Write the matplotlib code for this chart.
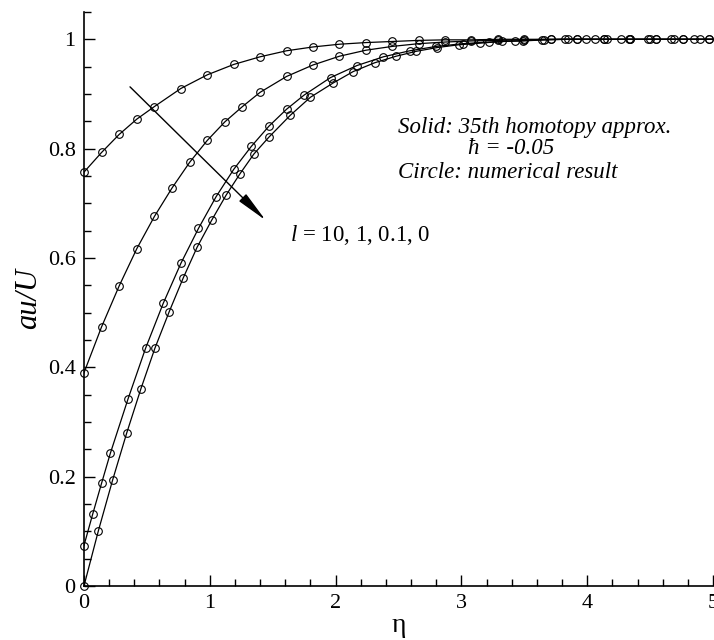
import numpy as np
import matplotlib
matplotlib.use("Agg")
import matplotlib.pyplot as plt
from matplotlib.ticker import MultipleLocator

plt.rcParams['font.family'] = ['Liberation Serif', 'DejaVu Serif']
plt.rcParams['mathtext.fontset'] = 'custom'
plt.rcParams['mathtext.rm'] = 'Liberation Serif'
plt.rcParams['mathtext.it'] = 'Liberation Serif:italic'

# l = 10
eta_10 = [0, 0.14, 0.28, 0.42, 0.56, 0.77, 0.98, 1.19, 1.40, 1.61, 1.82, 2.03,
          2.24, 2.45, 2.66, 2.87, 3.08, 3.29, 3.50, 3.71, 3.92, 4.13, 4.34,
          4.55, 4.76, 4.97]
u_10 = [0.757, 0.793, 0.826, 0.854, 0.877, 0.910, 0.935, 0.954, 0.968, 0.979,
        0.986, 0.991, 0.994, 0.996, 0.998, 0.999, 0.999, 1.0, 1.0, 1.0, 1.0,
        1.0, 1.0, 1.0, 1.0, 1.0]

# l = 1
eta_1 = [0, 0.14, 0.28, 0.42, 0.56, 0.70, 0.84, 0.98, 1.12, 1.26, 1.40, 1.61,
         1.82, 2.03, 2.24, 2.45, 2.66, 2.87, 3.08, 3.29, 3.50, 3.71, 3.92,
         4.13, 4.34, 4.55, 4.76, 4.97]
u_1 = [0.390, 0.474, 0.549, 0.617, 0.676, 0.728, 0.775, 0.815, 0.849, 0.877,
       0.903, 0.932, 0.953, 0.969, 0.980, 0.987, 0.992, 0.995, 0.997, 0.998,
       0.999, 1.0, 1.0, 1.0, 1.0, 1.0, 1.0, 1.0]

# l = 0.1
eta_01 = [0, 0.07, 0.14, 0.21, 0.35, 0.49, 0.63, 0.77, 0.91, 1.05, 1.19, 1.33,
          1.47, 1.61, 1.75, 1.96, 2.17, 2.38, 2.59, 2.80, 3.01, 3.22, 3.43,
          3.64, 3.85, 4.06, 4.27, 4.48, 4.69, 4.90]
u_01 = [0.074, 0.132, 0.188, 0.243, 0.342, 0.435, 0.517, 0.590, 0.654, 0.712,
        0.762, 0.804, 0.841, 0.872, 0.898, 0.930, 0.952, 0.968, 0.979, 0.987,
        0.992, 0.995, 0.997, 0.999, 1.0, 1.0, 1.0, 1.0, 1.0, 1.0]

# l = 0
eta_0 = [0, 0.114, 0.228, 0.34, 0.453, 0.564, 0.678, 0.79, 0.90, 1.015, 1.13,
         1.24, 1.35, 1.47, 1.64, 1.80, 1.98, 2.14, 2.31, 2.48, 2.64, 2.81,
         2.98, 3.15, 3.32, 3.49, 3.66, 3.82, 3.99, 4.16, 4.33, 4.50, 4.67,
         4.85]
u_0 = [0.0, 0.1005, 0.194, 0.280, 0.361, 0.435, 0.502, 0.564, 0.620, 0.669,
       0.715, 0.754, 0.790, 0.821, 0.861, 0.894, 0.920, 0.941, 0.957, 0.969,
       0.978, 0.985, 0.990, 0.993, 0.996, 0.997, 0.999, 1.0, 1.0, 1.0, 1.0,
       1.0, 1.0, 1.0]

curves = [(eta_10, u_10), (eta_1, u_1), (eta_01, u_01), (eta_0, u_0)]

fig = plt.figure(figsize=(7.14, 6.4), dpi=100)
ax = fig.add_axes([0.1176, 0.0844, 0.881, 0.8969])

for eta, u in curves:
    # solid line continues to the right edge at u = 1
    ax.plot(list(eta) + [5.0], list(u) + [1.0], color='k', lw=0.9)
    ax.plot(eta, u, ls='none', marker='o', ms=5.5, mfc='none', mec='k',
            mew=0.8, clip_on=False)

ax.set_xlim(0, 5)
ax.set_ylim(0, 1.05)
ax.xaxis.set_major_locator(MultipleLocator(1))
ax.xaxis.set_minor_locator(MultipleLocator(0.2))
ax.yaxis.set_major_locator(MultipleLocator(0.2))
ax.yaxis.set_minor_locator(MultipleLocator(0.05))
ax.xaxis.set_major_formatter(matplotlib.ticker.FuncFormatter(lambda v, p: f"{v:g}"))
ax.yaxis.set_major_formatter(matplotlib.ticker.FuncFormatter(lambda v, p: f"{v:g}"))

ax.spines['top'].set_visible(False)
ax.spines['right'].set_visible(False)
ax.spines['left'].set_linewidth(1.2)
ax.spines['bottom'].set_linewidth(1.2)
ax.tick_params(which='major', direction='in', length=8, width=1, labelsize=16, pad=6)
ax.tick_params(which='minor', direction='in', length=5, width=1)

ax.set_xlabel('η', fontsize=20, labelpad=0)
ax.set_ylabel('au/U', fontsize=22, style='italic', labelpad=3)

ax.annotate('', xy=(1.444, 0.669), xytext=(0.366, 0.913),
            arrowprops=dict(arrowstyle='-|>,head_length=1.4,head_width=0.22',
                            color='k', lw=1, mutation_scale=14, shrinkA=0, shrinkB=0))

ax.text(1.64, 0.642, r'$l$ = 10, 1, 0.1, 0', fontsize=16.5, va='center', ha='left')
ax.text(2.50, 0.839, 'Solid: 35th homotopy approx.', fontsize=16.5,
        style='italic', va='center', ha='left')
ax.text(3.05, 0.800, 'ħ = -0.05', fontsize=16.5, style='italic',
        va='center', ha='left')
ax.text(2.50, 0.757, 'Circle: numerical result', fontsize=16.5,
        style='italic', va='center', ha='left')

fig.savefig('out.png', dpi=100)
